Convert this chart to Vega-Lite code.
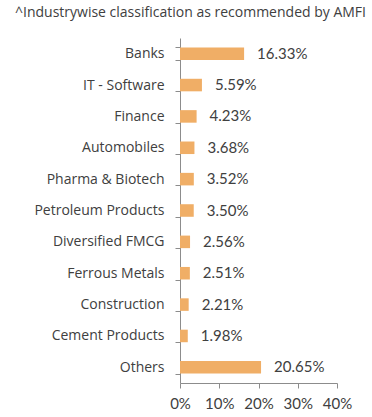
{
  "$schema": "https://vega.github.io/schema/vega-lite/v6.json",
  "autosize": {"type": "none"},
  "width": 157,
  "height": 345,
  "padding": {"left": 180, "top": 38, "right": 35, "bottom": 34},
  "background": "white",
  "title": {
    "text": "^Industrywise classification as recommended by AMFI",
    "anchor": "start",
    "frame": "group",
    "dx": -165,
    "offset": 11,
    "font": "Open Sans",
    "fontSize": 14,
    "fontWeight": "normal",
    "color": "#404040"
  },
  "data": {
    "values": [
      {"sector": "Banks", "value": 16.33},
      {"sector": "IT - Software", "value": 5.59},
      {"sector": "Finance", "value": 4.23},
      {"sector": "Automobiles", "value": 3.68},
      {"sector": "Pharma & Biotech", "value": 3.52},
      {"sector": "Petroleum Products", "value": 3.50},
      {"sector": "Diversified FMCG", "value": 2.56},
      {"sector": "Ferrous Metals", "value": 2.51},
      {"sector": "Construction", "value": 2.21},
      {"sector": "Cement Products", "value": 1.98},
      {"sector": "Others", "value": 20.65}
    ]
  },
  "config": {
    "view": {"stroke": null},
    "axis": {"domainColor": "#8c8c8c", "tickColor": "#8c8c8c", "grid": false}
  },
  "encoding": {
    "y": {
      "field": "sector",
      "type": "nominal",
      "sort": null,
      "scale": {"paddingInner": 0.6, "paddingOuter": 0.3},
      "axis": {
        "title": null,
        "tickBand": "extent",
        "tickSize": 5,
        "labelPadding": 11,
        "labelFont": "Open Sans",
        "labelFontSize": 14,
        "labelColor": "#404040"
      }
    },
    "x": {
      "field": "value",
      "type": "quantitative",
      "scale": {"domain": [0, 40]},
      "axis": {
        "title": null,
        "values": [0, 10, 20, 30, 40],
        "labelExpr": "datum.value + '%'",
        "tickSize": 5,
        "labelPadding": 8,
        "labelFont": "Lato",
        "labelFontSize": 15,
        "labelColor": "#404040",
        "labelFlush": false
      }
    }
  },
  "layer": [
    {"mark": {"type": "bar", "color": "#F0AE66"}},
    {
      "mark": {
        "type": "text",
        "align": "left",
        "dx": 13,
        "font": "Lato",
        "fontSize": 15,
        "color": "#404040",
        "text": {"expr": "format(datum.value, '.2f') + '%'"}
      }
    }
  ]
}
